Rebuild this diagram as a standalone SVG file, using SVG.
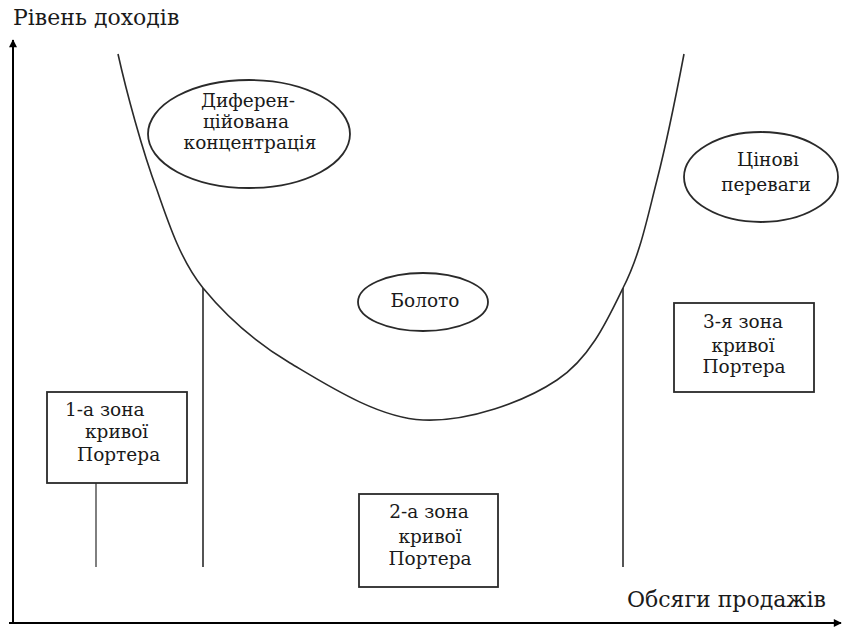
<svg xmlns="http://www.w3.org/2000/svg" width="846" height="628" viewBox="0 0 846 628">
<style>
text{font-family:'DejaVu Serif',serif;font-size:18.5px;fill:#1a1a1a}
.c{text-anchor:middle}
.ax{font-size:22px}
.ln{fill:none;stroke:#2a2a2a;stroke-width:1.6}
.sh{fill:#fff;stroke:#2a2a2a;stroke-width:1.8}
</style>
<defs>
<marker id="ar" viewBox="0 0 10 10" refX="9" refY="5" markerWidth="9" markerHeight="8" markerUnits="userSpaceOnUse" orient="auto">
<path d="M0,0 L10,5 L0,10 Z" fill="#000"/>
</marker>
</defs>
<rect width="846" height="628" fill="#fff"/>
<g id="axes">
<line class="ln" x1="13" y1="623" x2="13" y2="40" marker-end="url(#ar)" style="stroke:#000;stroke-width:2"/>
<line class="ln" x1="9" y1="623" x2="841" y2="623" marker-end="url(#ar)" style="stroke:#000;stroke-width:2"/>
<text class="ax" x="13" y="25">Рівень доходів</text>
<text class="ax" x="826" y="607" text-anchor="end">Обсяги продажів</text>
</g>
<g id="connectors">
<path class="ln" d="M118,54 C126,90 142,150 157,190 C170,228 182,262 203,288 C226,316 253,341 290,363 C327,385 378,418 423,420 C468,422 524,402 557,380 C590,358 607,321 623,288 C640,255 647,219 657,180 C667,141 680,75 684,54"/>
<line class="ln" x1="203" y1="288" x2="203" y2="567"/>
<line class="ln" x1="623" y1="288" x2="623" y2="567"/>
<line class="ln" x1="96" y1="465" x2="96" y2="567" style="stroke-width:1.2"/>
</g>
<g id="diff">
<ellipse class="sh" cx="249" cy="134" rx="101" ry="54"/>
<text class="c" x="248" y="107">Диферен-</text>
<text class="c" x="246" y="128">ційована</text>
<text class="c" x="250" y="149">концентрація</text>
</g>
<g id="price">
<ellipse class="sh" cx="761" cy="177" rx="77" ry="45"/>
<text class="c" x="768" y="166">Цінові</text>
<text class="c" x="766" y="191">переваги</text>
</g>
<g id="swamp">
<ellipse class="sh" cx="423" cy="302" rx="65" ry="29"/>
<text class="c" x="425" y="307">Болото</text>
</g>
<g id="zone1">
<rect class="sh" x="47" y="392" width="140" height="91"/>
<text x="65" y="416">1-а зона</text>
<text x="85" y="438">кривої</text>
<text x="77" y="461">Портера</text>
</g>
<g id="zone2">
<rect class="sh" x="359" y="494" width="139" height="93"/>
<text class="c" x="429" y="518">2-а зона</text>
<text class="c" x="430" y="543">кривої</text>
<text class="c" x="430" y="565">Портера</text>
</g>
<g id="zone3">
<rect class="sh" x="674" y="303" width="140" height="89"/>
<text class="c" x="743" y="328">3-я зона</text>
<text class="c" x="743" y="352">кривої</text>
<text class="c" x="744" y="373">Портера</text>
</g>
</svg>
